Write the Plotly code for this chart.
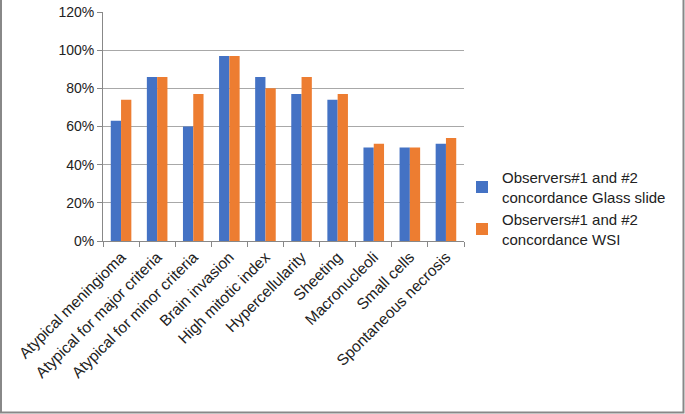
import plotly.graph_objects as go

categories = ["Atypical meningioma", "Atypical for major criteria", "Atypical for minor criteria",
              "Brain invasion", "High mitotic index", "Hypercellularity", "Sheeting",
              "Macronucleoli", "Small cells", "Spontaneous necrosis"]
glass_slide = [63, 86, 60, 97, 86, 77, 74, 49, 49, 51]
wsi = [74, 86, 77, 97, 80, 86, 77, 51, 49, 54]
series_names = ["Observers#1 and #2<br>concordance Glass slide",
                "Observers#1 and #2<br>concordance WSI"]
y_ticks = [0, 20, 40, 60, 80, 100, 120]

W, H = 685, 414
L, R, T, B = 103, 221, 12, 173
pw, ph = W - L - R, H - T - B

font = "Liberation Sans, Arial, sans-serif"

fig = go.Figure()
fig.add_trace(go.Bar(x=categories, y=glass_slide, name=series_names[0],
                     marker=dict(color="#4472C4", line=dict(width=0))))
fig.add_trace(go.Bar(x=categories, y=wsi, name=series_names[1],
                     marker=dict(color="#ED7D31", line=dict(width=0))))

fig.update_layout(
    width=W, height=H,
    margin=dict(l=L, r=R, t=T, b=B, autoexpand=False),
    paper_bgcolor="white", plot_bgcolor="white",
    barmode="group", bargap=0.43, bargroupgap=0,
    font=dict(family=font, size=14, color="#222222"),
    legend=dict(x=(462 - L) / pw, y=(241 - 161) / ph, xanchor="left", yanchor="top",
                font=dict(size=15, color="#222222"), itemwidth=30, tracegroupgap=1,
                bgcolor="rgba(0,0,0,0)"),
    xaxis=dict(tickangle=-45, showline=True, linecolor="#888888", linewidth=1,
               ticks="outside", tickson="boundaries", ticklen=5, tickcolor="#888888",
               tickfont=dict(size=15.5), showgrid=False, automargin=False),
    yaxis=dict(range=[0, 120], tickvals=y_ticks, ticktext=[f"{v}%" for v in y_ticks],
               showgrid=True, gridcolor="#A8A8A8", gridwidth=1,
               showline=True, linecolor="#888888", linewidth=1,
               ticks="outside", ticklen=5, tickcolor="#888888",
               tickfont=dict(size=14), zeroline=False, automargin=False),
    showlegend=True,
)

# outer border of the chart area
fig.add_shape(type="rect", xref="paper", yref="paper",
              x0=(1 - L) / pw, x1=(W - 1.5 - L) / pw,
              y0=-(B - 1.5) / ph, y1=(H - T - 1.5) / ph,
              line=dict(color="#888888", width=2), fillcolor="rgba(0,0,0,0)", layer="above")

fig.write_html("out.html", config={"displayModeBar": False},
               post_script="document.body.style.margin='0';document.body.style.padding='0';")
